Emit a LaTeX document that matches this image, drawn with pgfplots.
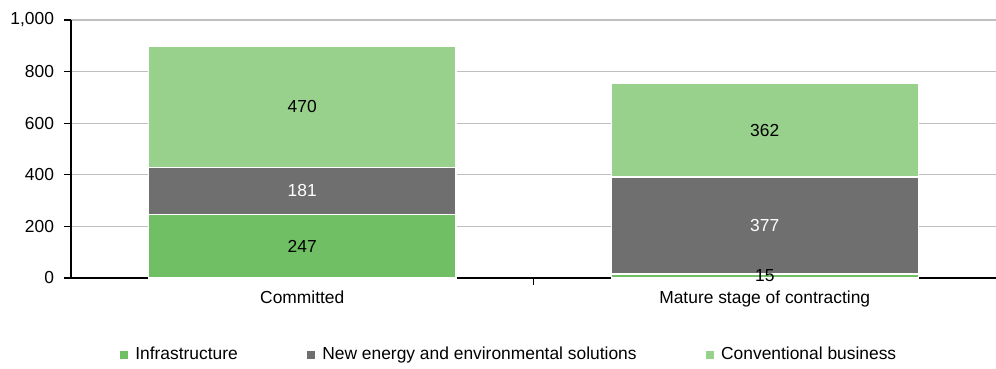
\documentclass[border=0pt]{standalone}
\usepackage{pgfplots}
\pgfplotsset{compat=1.18}
\usepackage{fontspec}
\setmainfont{Liberation Sans}

\definecolor{infra}{RGB}{112,191,101}
\definecolor{newen}{RGB}{111,111,111}
\definecolor{conv}{RGB}{151,209,140}
\definecolor{gridgray}{RGB}{191,191,191}

\begin{document}
\fontsize{17.4bp}{20bp}\selectfont
\begin{tikzpicture}
\useasboundingbox (-71bp,-91bp) rectangle (925bp,278bp);
\begin{axis}[
  at={(0,0)}, anchor=south west,
  scale only axis,
  width=925bp, height=258bp,
  ybar stacked,
  bar width=307bp,
  xmin=-0.5, xmax=1.5,
  ymin=0, ymax=1000,
  enlargelimits=false,
  axis x line*=bottom,
  axis y line*=left,
  axis line style={black, line width=1.2bp},
  xtick={0,1},
  xticklabels={Committed, Mature stage of contracting},
  minor xtick={0.5},
  major x tick style={draw=none},
  minor x tick style={black, line width=1.2bp},
  minor tick length=7bp,
  ytick={0,200,...,1000},
  major y tick style={black, line width=1.2bp},
  major tick length=7bp,
  tick align=outside,
  yticklabel style={xshift=-4bp},
  ymajorgrids,
  major grid style={gridgray, line width=1.2bp},
  /pgf/number format/1000 sep={,},
  /pgf/number format/assume math mode=true,
  % value labels sit in the middle of their segments
  nodes near coords,
  every node near coord/.append style={anchor=center, text=black},
  legend style={at={(0.473,-0.298)}, anchor=center, draw=none, fill=none,
    legend columns=3,
    /tikz/every odd column/.append style={column sep=4bp},
    /tikz/every even column/.append style={column sep=66bp}},
  legend image code/.code={\fill[#1] (0bp,-4.5bp) rectangle (9bp,4.5bp);},
]
% Infrastructure
\addplot[fill=infra, draw=white, line width=1.5bp] coordinates {(0,247) (1,15)};
% New energy and environmental solutions
\addplot[fill=newen, draw=white, line width=1.5bp,
  every node near coord/.append style={text=white}] coordinates {(0,181) (1,377)};
% Conventional business
\addplot[fill=conv, draw=white, line width=1.5bp] coordinates {(0,470) (1,362)};
\legend{Infrastructure, New energy and environmental solutions, Conventional business}
% x axis line on top of the bars
\draw[black, line width=1.2bp] (rel axis cs:0,0) -- (rel axis cs:1,0);
\end{axis}
\end{tikzpicture}
\end{document}
